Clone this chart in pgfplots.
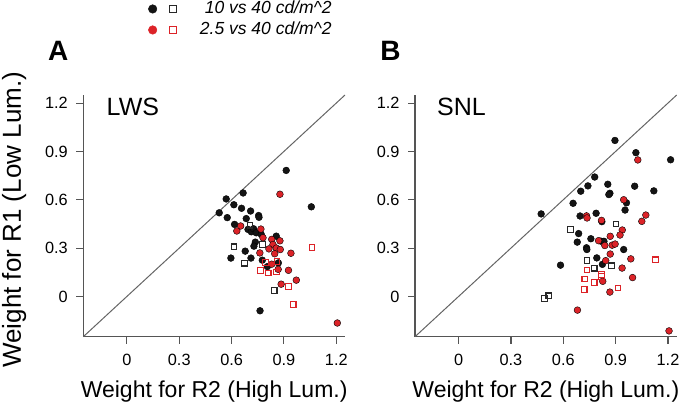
\documentclass[border=0pt]{standalone}
\usepackage{pgfplots}
\pgfplotsset{compat=1.18}
\usepackage{fontspec}
\setmainfont{Liberation Sans}
\definecolor{cred}{RGB}{220,35,40}
\definecolor{cblk}{RGB}{20,20,20}
\definecolor{sblk}{RGB}{40,40,40}
\definecolor{axgray}{RGB}{85,85,85}
\definecolor{diag}{RGB}{100,100,100}
\pgfplotsset{
  myaxis/.style={
    scale only axis, width=261.7pt, height=241.7pt,
    xmin=-0.25, xmax=1.25, ymin=-0.25, ymax=1.25,
    axis lines=left, axis line style={-, draw=axgray, line width=1.1pt},
    tick align=outside, major tick length=7pt,
    tick style={draw=axgray, line width=1.1pt},
    xtick={0,0.3,0.6,0.9,1.2}, xticklabels={0,0.3,0.6,0.9,1.2},
    ytick={0,0.3,0.6,0.9,1.2}, yticklabels={0,0.3,0.6,0.9,1.2},
    ticklabel style={font=\fontsize{16.3}{19}\selectfont},
    xticklabel style={yshift=-7pt},
    yticklabel style={xshift=-5pt},
    /pgf/number format/assume math mode=true,
    xlabel style={at={(axis description cs:0.5,-0.25)}, anchor=base, font=\fontsize{23}{26}\selectfont},
    clip=false,
  },
  bc/.style={only marks, mark=*, mark size=3.4pt, mark options={fill=cblk, draw=none}},
  rc/.style={only marks, mark=*, mark size=3.4pt, mark options={fill=cred, draw=none}},
  bs/.style={only marks, mark=square, mark size=2.8pt, mark options={draw=sblk, line width=1.1pt, fill=none}},
  rs/.style={only marks, mark=square, mark size=2.8pt, mark options={draw=cred, line width=1.1pt, fill=none}},
}
\begin{document}
\begin{tikzpicture}
\path[use as bounding box] (0pt,0pt) rectangle (679pt,408pt);
% Panel A
\begin{axis}[myaxis, at={(83.3pt,71.3pt)}, anchor=south west,
  xlabel={Weight for R2 (High Lum.)},
  ylabel={Weight for R1 (Low Lum.)},
  ylabel style={at={(axis description cs:-0.239,0.4836)}, anchor=base, font=\fontsize{26}{29}\selectfont},
  legend style={at={(axis description cs:0.949,1.389)}, anchor=north east, draw=none, fill=none,
    inner sep=0pt, outer sep=0pt, row sep=5pt, column sep=23pt,
    font=\itshape\fontsize{17.5}{20}\selectfont,
    nodes={inner sep=0pt, text height=12.5pt, text depth=3.5pt}},
  legend cell align=right,
]
\addplot[draw=diag, line width=1pt, forget plot] coordinates {(-0.25,-0.25) (1.25,1.25)};
\addlegendimage{legend image code/.code={\fill[cblk] (0pt,0pt) circle (4.3pt); \draw[sblk, line width=1.1pt] (16.5pt,-3.6pt) rectangle (23.7pt,3.6pt);}}
\addlegendentry{10 vs 40 cd/m\textasciicircum 2}
\addlegendimage{legend image code/.code={\fill[cred] (0pt,0pt) circle (4.3pt); \draw[cred, line width=1.1pt] (16.5pt,-3.6pt) rectangle (23.7pt,3.6pt);}}
\addlegendentry{2.5 vs 40 cd/m\textasciicircum 2}
\addplot[bc, forget plot] coordinates {
(0.913,0.782) (1.057,0.556) (0.666,0.642) (0.569,0.605) (0.613,0.569) (0.657,0.547)
(0.709,0.530) (0.529,0.519) (0.575,0.489) (0.755,0.502) (0.757,0.491) (0.684,0.483)
(0.617,0.447) (0.694,0.416) (0.713,0.401) (0.726,0.420) (0.741,0.395) (0.770,0.385)
(0.856,0.374) (0.736,0.337) (0.728,0.312) (0.678,0.281) (0.596,0.238) (0.711,0.238)
(0.776,0.225) (0.805,0.185) (0.868,0.208) (0.763,-0.089)};
\addplot[rc, forget plot] coordinates {
(0.877,0.634) (0.652,0.437) (0.630,0.406) (0.768,0.418) (0.780,0.364) (0.830,0.354)
(0.877,0.345) (0.837,0.322) (0.814,0.295) (0.856,0.300) (0.879,0.291) (0.847,0.265)
(0.762,0.270) (0.940,0.268) (0.830,0.200) (0.867,0.168) (0.926,0.162) (0.971,0.101)
(0.884,0.076) (1.206,-0.165)};
\addplot[bs, forget plot] coordinates {
(0.706,0.442) (0.776,0.322) (0.613,0.308) (0.673,0.206) (0.844,0.037)};
\addplot[rs, forget plot] coordinates {
(1.061,0.304) (0.793,0.210) (0.860,0.216) (0.766,0.162) (0.810,0.145) (0.857,0.152)
(0.926,0.061) (0.953,-0.051)};
\end{axis}
% Panel B
\begin{axis}[myaxis, at={(415pt,71.3pt)}, anchor=south west,
  xlabel={Weight for R2 (High Lum.)},
]
\addplot[draw=diag, line width=1pt] coordinates {(-0.25,-0.25) (1.25,1.25)};
\addplot[bc] coordinates {
(0.896,0.968) (1.016,0.892) (1.215,0.848) (0.780,0.741) (0.741,0.686) (0.700,0.653)
(0.855,0.696) (0.867,0.640) (0.861,0.632) (1.009,0.684) (1.119,0.655) (0.656,0.578)
(0.473,0.512) (0.962,0.581) (0.954,0.536) (0.696,0.499) (0.788,0.516) (0.821,0.464)
(0.688,0.390) (0.758,0.358) (0.680,0.337) (0.815,0.343) (0.833,0.342) (0.733,0.302)
(0.735,0.291) (0.946,0.291) (0.792,0.239) (0.584,0.194) (0.824,0.199)};
\addplot[rc] coordinates {
(1.027,0.847) (0.946,0.600) (0.733,0.500) (0.736,0.487) (0.819,0.472) (1.073,0.505)
(1.050,0.466) (0.938,0.412) (0.925,0.381) (0.869,0.373) (0.802,0.346) (0.880,0.318)
(0.897,0.325) (0.838,0.316) (0.869,0.263) (0.843,0.222) (0.987,0.233) (0.937,0.176)
(0.997,0.117) (0.826,0.094) (0.867,0.027) (0.681,-0.085) (1.206,-0.214)};
\addplot[bs] coordinates {
(0.640,0.414) (0.902,0.449) (0.735,0.223) (0.777,0.175) (0.877,0.190) (0.517,0.004)
(0.492,-0.014)};
\addplot[rs] coordinates {
(1.128,0.227) (0.736,0.164) (0.820,0.137) (0.818,0.124) (0.723,0.109) (0.777,0.087)
(0.720,0.042) (0.914,0.052)};
\end{axis}
\node[anchor=base, inner sep=0pt, font=\bfseries\fontsize{28}{30}\selectfont] at (58.3pt,348pt) {A};
\node[anchor=base, inner sep=0pt, font=\bfseries\fontsize{28}{30}\selectfont] at (390.5pt,348pt) {B};
\node[anchor=base west, inner sep=0pt, font=\fontsize{25}{28}\selectfont] at (106.5pt,293pt) {LWS};
\node[anchor=base west, inner sep=0pt, font=\fontsize{25}{28}\selectfont] at (437pt,293pt) {SNL};
\end{tikzpicture}
\end{document}
